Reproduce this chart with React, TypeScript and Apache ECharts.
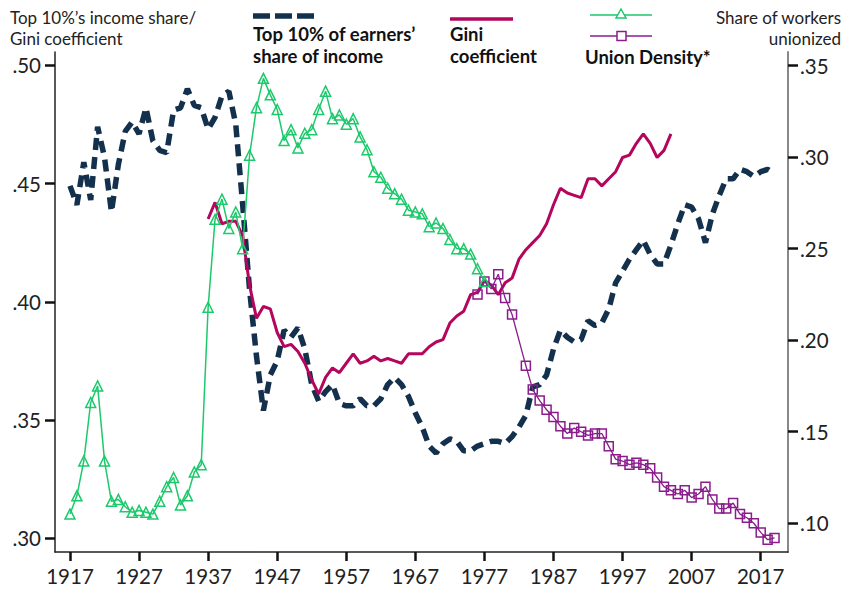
import React, { useEffect, useRef } from "react";
import * as echarts from "echarts";

// ---- Data ----
const top10StartYear = 1917;
const top10Share = [
  0.449, 0.441, 0.459, 0.443, 0.474, 0.461, 0.438, 0.458, 0.472, 0.476,
  0.471, 0.482, 0.468, 0.464, 0.463, 0.481, 0.482, 0.490, 0.483, 0.482,
  0.473, 0.478, 0.487, 0.489, 0.475, 0.441, 0.405, 0.377, 0.354, 0.369,
  0.375, 0.388, 0.385, 0.389, 0.380, 0.365, 0.358, 0.362, 0.365, 0.357,
  0.356, 0.356, 0.359, 0.356, 0.356, 0.359, 0.365, 0.368, 0.365, 0.360,
  0.353, 0.347, 0.339, 0.336, 0.340, 0.342, 0.341, 0.337, 0.337, 0.339,
  0.340, 0.341, 0.341, 0.340, 0.343, 0.347, 0.352, 0.364, 0.365, 0.369,
  0.380, 0.388, 0.385, 0.383, 0.384, 0.392, 0.390, 0.391, 0.397, 0.408,
  0.413, 0.418, 0.422, 0.426, 0.420, 0.416, 0.416, 0.424, 0.433, 0.441,
  0.440, 0.435, 0.425, 0.437, 0.445, 0.452, 0.452, 0.456, 0.455, 0.453,
  0.455, 0.456, 0.454,
];

const giniStartYear = 1937;
const gini = [
  0.435, 0.442, 0.433, 0.434, 0.434, 0.428, 0.407, 0.393, 0.398, 0.397,
  0.387, 0.381, 0.382, 0.379, 0.374, 0.367, 0.361, 0.368, 0.372, 0.370,
  0.374, 0.378, 0.374, 0.375, 0.377, 0.375, 0.376, 0.375, 0.374, 0.378,
  0.378, 0.378, 0.381, 0.383, 0.384, 0.391, 0.394, 0.396, 0.403, 0.404,
  0.409, 0.407, 0.403, 0.408, 0.410, 0.418, 0.422, 0.425, 0.428, 0.433,
  0.441, 0.448, 0.446, 0.445, 0.444, 0.452, 0.452, 0.449, 0.452, 0.455,
  0.461, 0.462, 0.467, 0.471, 0.467, 0.461, 0.464, 0.471,
];

const unionOldStartYear = 1917;
const unionDensityOld = [
  0.105, 0.115, 0.134, 0.166, 0.175, 0.134, 0.112, 0.113, 0.109, 0.106,
  0.107, 0.106, 0.105, 0.112, 0.120, 0.125, 0.110, 0.115, 0.128, 0.132,
  0.218, 0.266, 0.277, 0.261, 0.270, 0.250, 0.301, 0.327, 0.343, 0.334,
  0.326, 0.309, 0.315, 0.305, 0.313, 0.315, 0.326, 0.336, 0.321, 0.323,
  0.318, 0.321, 0.311, 0.304, 0.292, 0.289, 0.283, 0.280, 0.277, 0.271,
  0.270, 0.269, 0.262, 0.264, 0.261, 0.255, 0.250, 0.250, 0.247, 0.239,
  0.232,
];

const unionNewStartYear = 1976;
const unionDensityNew = [
  0.225, 0.232, 0.228, 0.236, 0.223, 0.214, null, 0.186, 0.173, 0.167,
  0.162, 0.158, 0.153, 0.149, 0.152, 0.150, 0.148, 0.149, 0.149, 0.142,
  0.135, 0.134, 0.132, 0.133, 0.132, 0.130, 0.125, 0.120, 0.118, 0.116,
  0.118, 0.114, 0.116, 0.120, 0.113, 0.108, 0.108, 0.111, 0.105, 0.103,
  0.100, 0.095, 0.091, 0.092,
];

const xTickYears = [1917, 1927, 1937, 1947, 1957, 1967, 1977, 1987, 1997, 2007, 2017];
const leftTicks = [0.30, 0.35, 0.40, 0.45, 0.50];
const rightTicks = [0.10, 0.15, 0.20, 0.25, 0.30, 0.35];

// ---- Styles ----
const NAVY = "#13304d";
const CRIMSON = "#b3065c";
const GREEN = "#1cc96b";
const PURPLE = "#8a1c8c";
const FONT = "Lato, 'Noto Sans', sans-serif";

const toPairs = (start: number, arr: (number | null)[]) =>
  arr.map((v, i) => [start + i, v]);

const fmt = (v: number) => v.toFixed(2).replace(/^0/, "");

export default function App() {
  const ref = useRef<HTMLDivElement>(null);

  useEffect(() => {
    document.body.style.margin = "0";
    if (!ref.current) return;
    const chart = echarts.init(ref.current, null, { renderer: "svg" });

    const legendText = (text: string, x: number, y: number) => ({
      type: "text",
      x,
      y,
      style: {
        text,
        fill: "#111",
        font: `bold 18.5px ${FONT}`,
        textVerticalAlign: "middle",
      },
    });
    const titleText = (text: string, x: number, y: number, align: string) => ({
      type: "text",
      x,
      y,
      style: {
        text,
        fill: "#222",
        font: `17px ${FONT}`,
        textAlign: align,
        textVerticalAlign: "middle",
      },
    });

    const option: any = {
      animation: false,
      backgroundColor: "#ffffff",
      grid: { left: 55, right: 66, top: 52, bottom: 38 },
      xAxis: {
        type: "value",
        min: 1914.83,
        max: 2020.95,
        axisLine: { show: true, lineStyle: { color: "#222", width: 1.5 } },
        axisTick: {
          show: true,
          customValues: xTickYears,
          length: 9,
          lineStyle: { color: "#111", width: 2.5 },
        },
        axisLabel: {
          customValues: xTickYears,
          margin: 13,
          color: "#222",
          fontSize: 20.5,
          fontFamily: FONT,
          formatter: (v: number) => String(Math.round(v)),
        },
        splitLine: { show: false },
      },
      yAxis: [
        {
          type: "value",
          position: "left",
          min: 0.2942,
          max: 0.5056,
          axisLine: { show: true, lineStyle: { color: "#222", width: 1.5 } },
          axisTick: {
            show: true,
            customValues: leftTicks,
            length: 10,
            lineStyle: { color: "#111", width: 2.5 },
          },
          axisLabel: {
            customValues: leftTicks,
            margin: 14,
            color: "#222",
            fontSize: 20.5,
            fontFamily: FONT,
            formatter: fmt,
          },
          splitLine: { show: false },
        },
        {
          type: "value",
          position: "right",
          min: 0.0843,
          max: 0.3574,
          axisLine: { show: true, lineStyle: { color: "#888", width: 2 } },
          axisTick: {
            show: true,
            customValues: rightTicks,
            length: 10,
            lineStyle: { color: "#111", width: 2.5 },
          },
          axisLabel: {
            customValues: rightTicks,
            margin: 12,
            color: "#222",
            fontSize: 20.5,
            fontFamily: FONT,
            formatter: fmt,
          },
          splitLine: { show: false },
        },
      ],
      series: [
        {
          name: "Top 10% of earners' share of income",
          type: "line",
          yAxisIndex: 0,
          data: toPairs(top10StartYear, top10Share),
          showSymbol: false,
          symbol: "none",
          lineStyle: { color: NAVY, width: 5.5, type: [12, 7], cap: "butt" },
          z: 2,
        },
        {
          name: "Gini coefficient",
          type: "line",
          yAxisIndex: 0,
          data: toPairs(giniStartYear, gini),
          showSymbol: false,
          symbol: "none",
          lineStyle: { color: CRIMSON, width: 3 },
          z: 3,
        },
        {
          name: "Union Density (new)",
          type: "line",
          yAxisIndex: 1,
          data: toPairs(unionNewStartYear, unionDensityNew),
          connectNulls: true,
          symbol: "rect",
          symbolSize: 9,
          itemStyle: { color: "rgba(255,255,255,0)", borderColor: PURPLE, borderWidth: 1.5 },
          lineStyle: { color: PURPLE, width: 1.3 },
          z: 4,
        },
        {
          name: "Union Density",
          type: "line",
          yAxisIndex: 1,
          data: toPairs(unionOldStartYear, unionDensityOld),
          symbol: "triangle",
          symbolSize: 10,
          itemStyle: { color: "rgba(255,255,255,0)", borderColor: GREEN, borderWidth: 1.5 },
          lineStyle: { color: GREEN, width: 1.5 },
          z: 5,
        },
      ],
      graphic: [
        titleText("Top 10%’s income share/", 10, 17, "left"),
        titleText("Gini coefficient", 10, 38, "left"),
        titleText("Share of workers", 841, 17, "right"),
        titleText("unionized", 841, 38, "right"),
        {
          type: "line",
          shape: { x1: 253, y1: 16, x2: 319, y2: 16 },
          style: { stroke: NAVY, lineWidth: 5.5, lineDash: [17, 5] },
        },
        legendText("Top 10% of earners’", 253, 34),
        legendText("share of income", 253, 56),
        {
          type: "line",
          shape: { x1: 450, y1: 19, x2: 513, y2: 19 },
          style: { stroke: CRIMSON, lineWidth: 3.5 },
        },
        legendText("Gini", 450, 34),
        legendText("coefficient", 450, 56),
        {
          type: "line",
          shape: { x1: 590, y1: 15, x2: 652, y2: 15 },
          style: { stroke: GREEN, lineWidth: 1.5 },
        },
        {
          type: "polygon",
          shape: { points: [[621, 9], [626, 18], [616, 18]] },
          style: { fill: "#fff", stroke: GREEN, lineWidth: 1.5 },
        },
        {
          type: "line",
          shape: { x1: 590, y1: 36, x2: 652, y2: 36 },
          style: { stroke: PURPLE, lineWidth: 1.5 },
        },
        {
          type: "rect",
          shape: { x: 617, y: 31.5, width: 9, height: 9 },
          style: { fill: "#fff", stroke: PURPLE, lineWidth: 1.5 },
        },
        legendText("Union Density*", 585, 57),
      ],
    };

    chart.setOption(option);
    return () => chart.dispose();
  }, []);

  return <div ref={ref} style={{ width: 854, height: 590 }} />;
}
